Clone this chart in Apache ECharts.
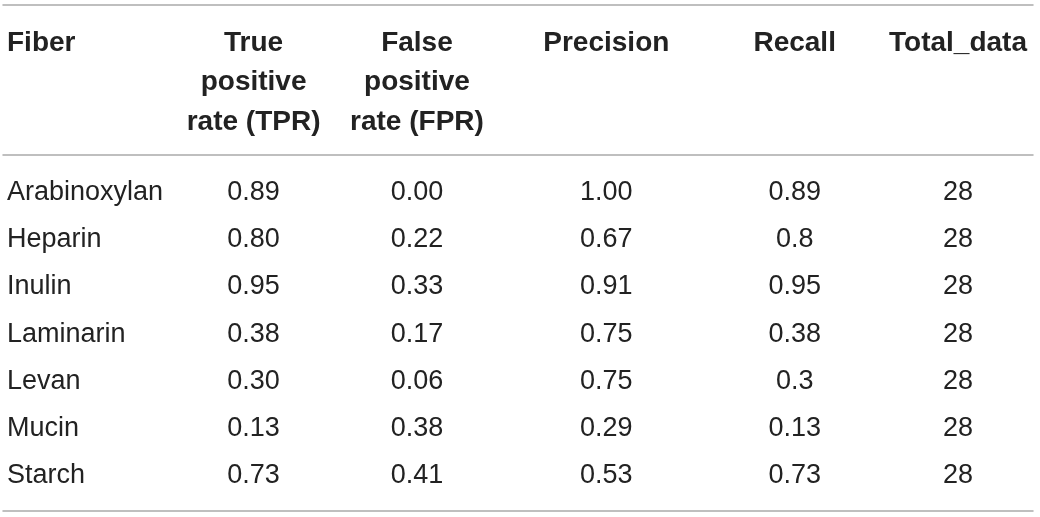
<!DOCTYPE html>
<html>
<head>
<meta charset="utf-8">
<script src="https://cdn.jsdelivr.net/npm/echarts@6/dist/echarts.min.js"></script>
<style>
  html, body { margin: 0; padding: 0; background: #fff; }
  #chart { width: 1040px; height: 517px; }
</style>
</head>
<body>
<div id="chart"></div>
<script>
// table content
const fibers = ["Arabinoxylan", "Heparin", "Inulin", "Laminarin", "Levan", "Mucin", "Starch"];
const columns = ["TPR", "FPR", "Precision", "Recall", "Total_data"];
const headerLines = [
  ["True", "positive", "rate (TPR)"],
  ["False", "positive", "rate (FPR)"],
  ["Precision"],
  ["Recall"],
  ["Total_data"]
];
const firstHeader = "Fiber";

const tpr = [0.89, 0.80, 0.95, 0.38, 0.30, 0.13, 0.73];
const fpr = [0.00, 0.22, 0.33, 0.17, 0.06, 0.38, 0.41];
const precision = [1.00, 0.67, 0.91, 0.75, 0.75, 0.29, 0.53];
const recall = [0.89, 0.8, 0.95, 0.38, 0.3, 0.13, 0.73];
const totalData = [28, 28, 28, 28, 28, 28, 28];

const columnValues = [tpr, fpr, precision, recall, totalData];
const decimals = [2, 2, 2, null, 0];   // null = print as is

// layout
const colNudge = [4, -11, 0, 10, -5];
const FONT = "'Liberation Sans', Arial, Helvetica, sans-serif";
const TEXT = "#222";
const RULE = { color: "#aaa", width: 1.5 };
const HEAD_LH = 39.5;

const chart = echarts.init(document.getElementById("chart"));

const headRich = {};
colNudge.forEach((n, i) => {
  headRich["c" + i] = {
    fontFamily: FONT, fontSize: 28, fontWeight: "bold", color: TEXT,
    lineHeight: HEAD_LH,
    padding: n >= 0 ? [0, 0, 0, 2 * n] : [0, -2 * n, 0, 0]
  };
});

const ruleAxis = (position, offset) => ({
  gridIndex: 0, type: "value", min: 0, max: 1, position, offset: offset || 0,
  axisLine: { show: true, onZero: false, lineStyle: RULE },
  axisTick: { show: false }, axisLabel: { show: false }, splitLine: { show: false }
});

const series = columns.map((c, ci) => ({
  type: "scatter",
  name: c,
  xAxisIndex: 3,
  yAxisIndex: 1,
  symbolSize: 0,
  silent: true,
  itemStyle: { opacity: 1 },
  data: columnValues[ci].map((v, ri) => [c, fibers[ri], v]),
  label: {
    show: true,
    position: "inside",
    offset: [colNudge[ci], 0],
    fontFamily: FONT, fontSize: 27, color: TEXT,
    formatter: p => {
      const v = p.value[2];
      return decimals[ci] === null ? String(v) : v.toFixed(decimals[ci]);
    }
  }
}));

chart.setOption({
  backgroundColor: "#fff",
  animation: false,
  grid: [
    { left: 0, right: 7, top: 155, bottom: 6 },
    { left: 249.6, right: 75.2, top: 168.9, bottom: 17.7 }
  ],
  xAxis: [
    ruleAxis("bottom"),
    ruleAxis("top"),
    ruleAxis("top", 150),
    {
      gridIndex: 1, type: "category", data: columns, position: "top",
      boundaryGap: false,
      axisLine: { show: false }, axisTick: { show: false }, splitLine: { show: false },
      axisLabel: {
        interval: 0, margin: 145.6, verticalAlign: "top", align: "center",
        formatter: (v, i) => headerLines[i].map(l => "{c" + i + "|" + l + "}").join("\n"),
        rich: headRich
      }
    }
  ],
  yAxis: [
    {
      gridIndex: 0, type: "value", min: 0, max: 1,
      axisLine: { show: false }, axisTick: { show: false },
      axisLabel: { show: false }, splitLine: { show: false },
      name: firstHeader, nameLocation: "end", nameGap: 131.75,
      nameTextStyle: {
        fontFamily: FONT, fontSize: 28, fontWeight: "bold", color: TEXT,
        align: "left", verticalAlign: "top", lineHeight: HEAD_LH,
        padding: [0, 0, 0, 4]
      }
    },
    {
      gridIndex: 1, type: "category", data: fibers, inverse: true,
      axisLine: { show: false }, axisTick: { show: false }, splitLine: { show: false },
      axisLabel: {
        align: "left", margin: 242.6,
        fontFamily: FONT, fontSize: 27, color: TEXT
      }
    }
  ],
  series
});
</script>
</body>
</html>
